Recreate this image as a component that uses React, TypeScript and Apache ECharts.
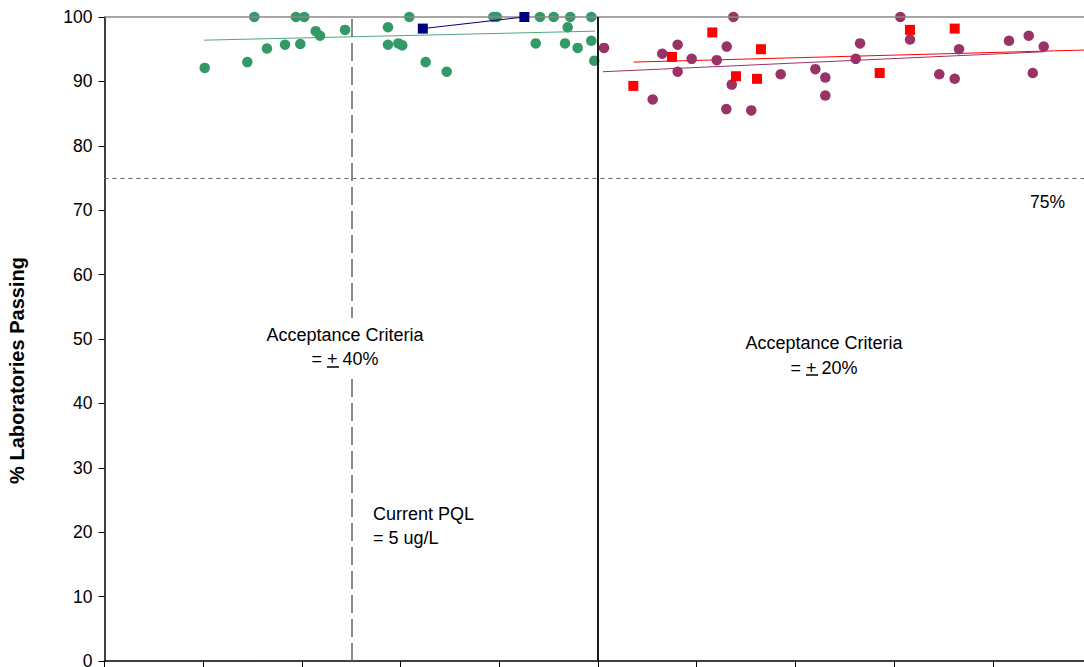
import React, { useEffect, useRef } from "react";
import * as echarts from "echarts";

// x in axis-tick units (axis labels are cut off in the reference), y = % laboratories passing
const greenPoints: [number, number][] = [
  [1.015, 92.1], [1.447, 93.0], [1.518, 100], [1.646, 95.1], [1.829, 95.7],
  [1.94, 100], [1.984, 95.8], [2.024, 100], [2.14, 97.8], [2.183, 97.1],
  [2.437, 98.0], [2.872, 98.4], [2.872, 95.7], [2.977, 95.9], [3.017, 95.6],
  [3.088, 100], [3.254, 93.0], [3.467, 91.5], [3.94, 100], [3.974, 100],
  [4.369, 95.9], [4.412, 100], [4.551, 100], [4.666, 95.9], [4.693, 98.4],
  [4.719, 100], [4.794, 95.2], [4.932, 100], [4.932, 96.3], [4.962, 93.2],
];

const purplePoints: [number, number][] = [
  [5.061, 95.2], [5.554, 87.2], [5.651, 94.3], [5.807, 95.7], [5.807, 91.5],
  [5.949, 93.5], [6.203, 93.3], [6.304, 95.4], [6.355, 89.5], [6.3, 85.7],
  [6.372, 100], [6.553, 85.5], [6.851, 91.1], [7.202, 91.9], [7.303, 90.6],
  [7.303, 87.8], [7.611, 93.5], [7.655, 95.9], [8.063, 100], [8.161, 96.5],
  [8.458, 91.1], [8.614, 90.4], [8.658, 95.0], [9.164, 96.3], [9.364, 97.1],
  [9.405, 91.3], [9.516, 95.4],
];

const redSquares: [number, number][] = [
  [5.358, 89.3], [5.75, 93.8], [6.158, 97.6], [6.398, 90.8], [6.611, 90.4],
  [6.651, 95.0], [7.854, 91.3], [8.161, 98.0], [8.614, 98.2],
];

const navySquares: [number, number][] = [
  [3.225, 98.2], [4.254, 100],
];

const greenTrend: [number, number][] = [[1.006, 96.4], [4.97, 97.8]];
const purpleTrend: [number, number][] = [[5.05, 91.5], [9.52, 94.6]];
const redTrend: [number, number][] = [[5.36, 93.0], [10.0, 94.9]];

const passLine = 75;
const pqlX = 2.5;
const criteriaSplitX = 5;

const FONT = "'Liberation Sans', Arial, sans-serif";

export default function App() {
  const ref = useRef<HTMLDivElement>(null);
  useEffect(() => {
    if (!ref.current) return;
    const chart = echarts.init(ref.current, undefined, { renderer: "svg" });
    const lineSeries = (data: [number, number][], color: string) => ({
      type: "line",
      data,
      showSymbol: false,
      symbol: "none",
      lineStyle: { color, width: 1 },
      z: 3,
      silent: true,
    });
    chart.setOption({
      animation: false,
      backgroundColor: "#fff",
      textStyle: { fontFamily: FONT },
      grid: { left: 104.5, top: 17, width: 987, height: 644, containLabel: false },
      xAxis: {
        type: "value",
        min: 0,
        max: 10,
        interval: 1,
        axisLine: { show: true, onZero: false, lineStyle: { color: "#000", width: 1.5 } },
        axisTick: { show: true, inside: false, length: 6, lineStyle: { color: "#000" } },
        axisLabel: { show: false },
        splitLine: { show: false },
      },
      yAxis: {
        type: "value",
        min: 0,
        max: 100,
        interval: 10,
        axisLine: { show: true, onZero: false, lineStyle: { color: "#000", width: 1.5 } },
        axisTick: { show: true, inside: false, length: 6, lineStyle: { color: "#000" } },
        axisLabel: { color: "#000", fontSize: 17.5, fontFamily: FONT, margin: 12 },
        splitLine: { show: false },
      },
      series: [
        {
          type: "line",
          data: [],
          silent: true,
          markLine: {
            silent: true,
            symbol: "none",
            label: { show: false },
            data: [
              { yAxis: 100, lineStyle: { color: "#888", type: "solid", width: 1.5 } },
              { yAxis: passLine, lineStyle: { color: "#666", type: [4, 4], width: 1.2 } },
              { xAxis: pqlX, lineStyle: { color: "#666", type: [18, 6], width: 1.5 } },
              { xAxis: criteriaSplitX, lineStyle: { color: "#000", type: "solid", width: 1.8 } },
            ],
          },
          z: 1,
        },
        lineSeries(greenTrend, "#4fa87a"),
        lineSeries(purpleTrend, "#993366"),
        lineSeries(redTrend, "#ff0000"),
        {
          type: "scatter",
          data: greenPoints,
          symbol: "circle",
          symbolSize: 10.5,
          itemStyle: { color: "#339966", opacity: 1 },
          z: 4,
        },
        {
          type: "scatter",
          data: purplePoints,
          symbol: "circle",
          symbolSize: 10.5,
          itemStyle: { color: "#993366", opacity: 1 },
          z: 4,
        },
        {
          type: "scatter",
          data: redSquares,
          symbol: "rect",
          symbolSize: 10,
          itemStyle: { color: "#ff0000", opacity: 1 },
          z: 5,
        },
        {
          type: "line",
          data: navySquares,
          symbol: "rect",
          symbolSize: 10,
          showSymbol: true,
          itemStyle: { color: "#000080", opacity: 1 },
          lineStyle: { color: "#000080", width: 1 },
          z: 5,
        },
      ],
      graphic: [
        {
          type: "text",
          x: 17,
          y: 370.5,
          rotation: Math.PI / 2,
          z: 100,
          style: {
            text: "% Laboratories Passing",
            fontFamily: FONT,
            fontSize: 20,
            fontWeight: "bold",
            fill: "#000",
            align: "center",
            verticalAlign: "middle",
          },
        },
        {
          type: "text",
          x: 345,
          y: 347,
          z: 100,
          style: {
            text: "Acceptance Criteria\n= + 40%",
            fontFamily: FONT,
            fontSize: 18,
            lineHeight: 24,
            fill: "#000",
            align: "center",
            verticalAlign: "middle",
            backgroundColor: "#fff",
            padding: [4, 0, 6, 0],
          },
        },
        { type: "line", z: 101, shape: { x1: 327, y1: 367, x2: 339, y2: 367 }, style: { stroke: "#000", lineWidth: 1.5 } },
        {
          type: "text",
          x: 824,
          y: 355.5,
          z: 100,
          style: {
            text: "Acceptance Criteria\n= + 20%",
            fontFamily: FONT,
            fontSize: 18,
            lineHeight: 24.5,
            fill: "#000",
            align: "center",
            verticalAlign: "middle",
          },
        },
        { type: "line", z: 101, shape: { x1: 806, y1: 375, x2: 818, y2: 375 }, style: { stroke: "#000", lineWidth: 1.5 } },
        {
          type: "text",
          x: 373,
          y: 526,
          z: 100,
          style: {
            text: "Current PQL\n= 5 ug/L",
            fontFamily: FONT,
            fontSize: 18,
            lineHeight: 24,
            fill: "#000",
            align: "left",
            verticalAlign: "middle",
          },
        },
        {
          type: "text",
          x: 1047.5,
          y: 201.5,
          z: 100,
          style: {
            text: "75%",
            fontFamily: FONT,
            fontSize: 17.5,
            fill: "#000",
            align: "center",
            verticalAlign: "middle",
          },
        },
      ],
    });
    return () => chart.dispose();
  }, []);
  return (
    <div
      style={{
        position: "fixed",
        left: 0,
        top: 0,
        width: "1084px",
        height: "667px",
        overflow: "hidden",
        background: "#fff",
      }}
    >
      <div ref={ref} style={{ width: "1200px", height: "720px" }} />
    </div>
  );
}
